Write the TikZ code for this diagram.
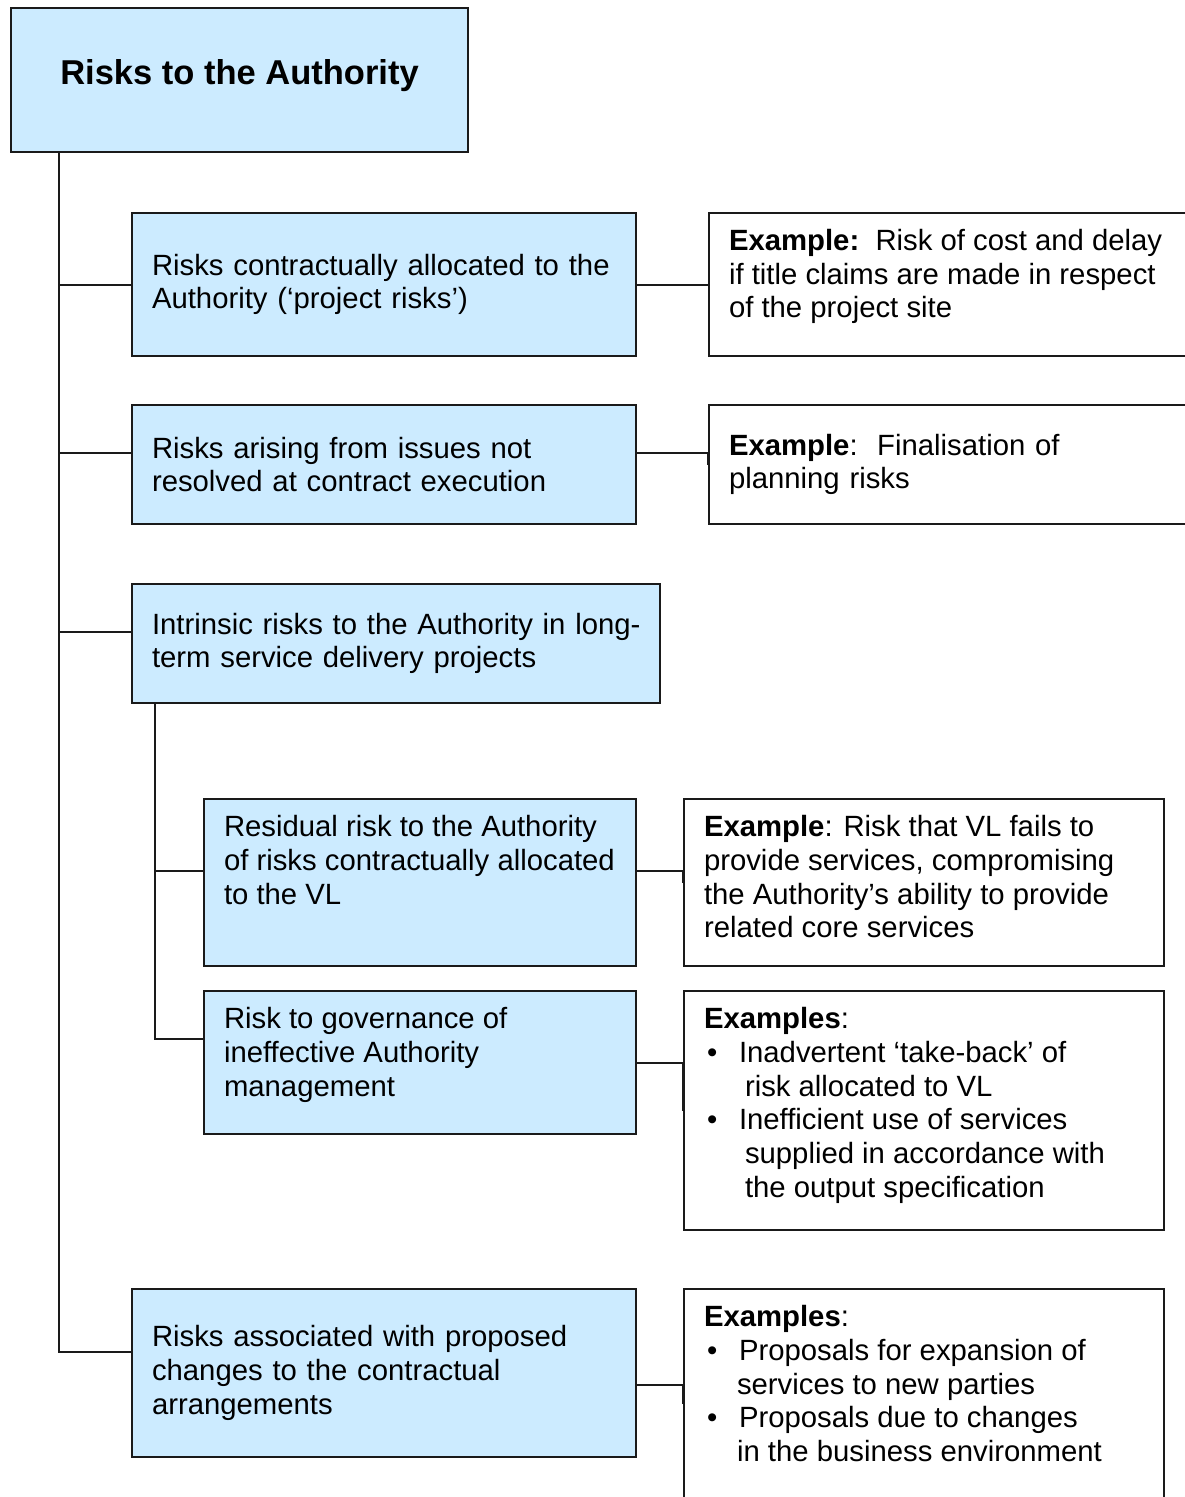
\documentclass[tikz,border=0pt]{standalone}
\usepackage{fontspec}
\setmainfont{Liberation Sans}
\usetikzlibrary{positioning}

\definecolor{riskblue}{HTML}{CCEBFF}
\definecolor{edgegrey}{HTML}{1A1A1A}

\tikzset{
	riskbox/.style={draw=edgegrey, line width=2pt, fill=riskblue, anchor=north west,
		inner xsep=20pt, inner ysep=0pt, font=\fontsize{29.3}{33.7}\selectfont},
	examplebox/.style={riskbox, fill=white},
	link/.style={draw=edgegrey, line width=2pt},
}
\newcommand{\toptext}[3]{\parbox[c][#1][t]{#2}{\vspace*{14pt}\strut#3}}
\newcommand{\bul}{\makebox[35pt][l]{\hspace{3pt}\textbullet}}

\begin{document}
\begin{tikzpicture}[x=1pt, y=-1pt]
	\useasboundingbox (0,0) rectangle (1185,1497);
	% main column
	\node[riskbox, minimum width=457pt, minimum height=144pt, text height=20pt, text depth=12pt,
		font=\fontsize{34.5}{40}\selectfont\bfseries] (title) at (10,7) {Risks to the Authority};
	\node[riskbox, align=left, text width=464pt, minimum height=143pt] (allocated) at (131,212)
		{Risks contractually allocated to the\\Authority (‘project risks’)};
	\node[riskbox, align=left, text width=464pt, minimum height=119pt] (unresolved) at (131,404)
		{Risks arising from issues not\\resolved at contract execution};
	\node[riskbox, align=left, text width=488pt, minimum height=119pt] (intrinsic) at (131,583)
		{\mbox{Intrinsic risks to the Authority in long-}\\term service delivery projects};
	\node[riskbox] (residual) at (203,798)
		{\toptext{167pt}{392pt}{Residual risk to the Authority\\of risks contractually allocated\\to the VL}};
	\node[riskbox] (governance) at (203,990)
		{\toptext{143pt}{392pt}{Risk to governance of\\ineffective Authority\\management}};
	\node[riskbox, align=left, text width=464pt, minimum height=168pt] (changes) at (131,1288)
		{Risks associated with proposed\\changes to the contractual\\arrangements};

	% examples
	\node[examplebox] (exallocated) at (708,212)
		{\toptext{143pt}{460pt}{\textbf{Example:}\ \ Risk of cost and delay\\if title claims are made in respect\\of the project site}};
	\node[examplebox, align=left, text width=460pt, minimum height=119pt] (exunresolved) at (708,404)
		{\textbf{Example}:\ \ Finalisation of\\planning risks};
	\node[examplebox] (exresidual) at (683,798)
		{\toptext{167pt}{440pt}{\textbf{Example}: Risk that VL fails to\\provide services, compromising\\the Authority’s ability to provide\\related core services}};
	\node[examplebox] (exgovernance) at (683,990)
		{\toptext{239pt}{440pt}{\textbf{Examples}:\\\bul Inadvertent ‘take-back’ of\\\hspace*{41pt}risk allocated to VL\\\bul Inefficient use of services\\\hspace*{41pt}supplied in accordance with\\\hspace*{41pt}the output specification}};
	\node[examplebox] (exchanges) at (683,1288)
		{\toptext{230pt}{440pt}{\textbf{Examples}:\\\bul Proposals for expansion of\\\hspace*{33pt}services to new parties\\\bul Proposals due to changes\\\hspace*{33pt}in the business environment}};

	% tree lines
	\coordinate (trunktop) at ([xshift=49pt]title.south west);
	\coordinate (subtop) at ([xshift=24pt]intrinsic.south west);
	\draw[link] ([yshift=21pt]changes.west) -| (trunktop);
	\draw[link] (allocated.west) -| (trunktop);
	\draw[link] ([yshift=12pt]unresolved.west) -| (trunktop);
	\draw[link] ([yshift=12pt]intrinsic.west) -| (trunktop);
	\draw[link] ([yshift=23.5pt]governance.west) -| (subtop);
	\draw[link] ([yshift=12pt]residual.west) -| (subtop);

	% links to examples
	\draw[link] (allocated.east) -- (exallocated.west);
	\draw[link] ([yshift=12pt]unresolved.east) -| (exunresolved.west);
	\draw[link] ([yshift=12pt]residual.east) -| (exresidual.west);
	\draw[link] (governance.east) -| (exgovernance.west);
	\draw[link] ([yshift=-12pt]changes.east) -| (exchanges.west);
\end{tikzpicture}
\end{document}
